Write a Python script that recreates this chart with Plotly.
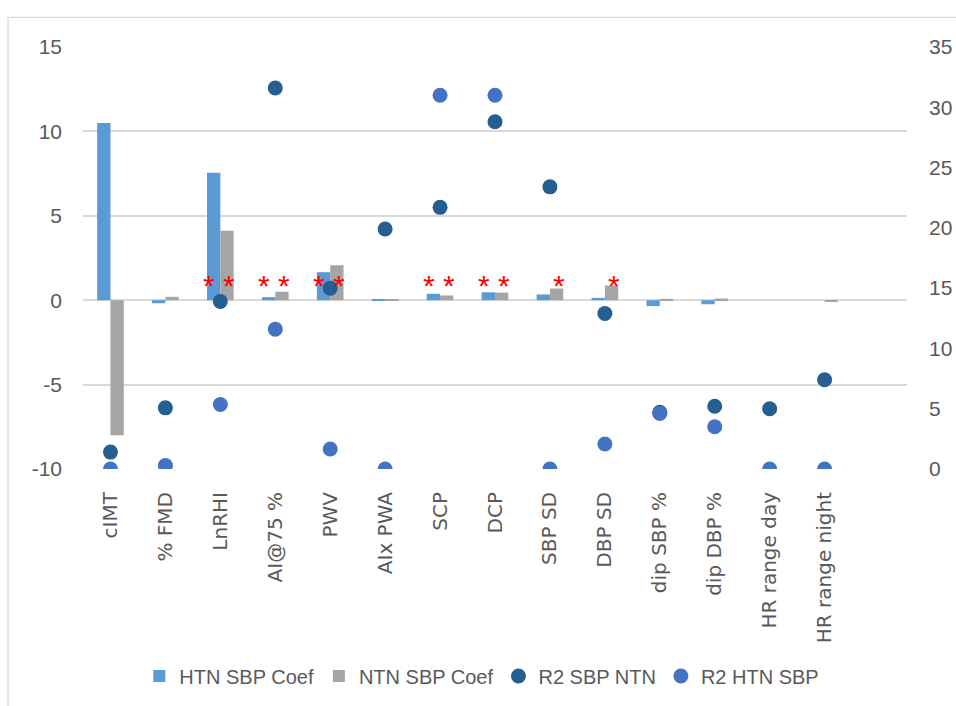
import plotly.graph_objects as go

categories = ["cIMT", "% FMD", "LnRHI", "AI@75 %", "PWV", "AIx PWA", "SCP", "DCP",
              "SBP SD", "DBP SD", "dip SBP %", "dip DBP %", "HR range day", "HR range night"]
htn_sbp_coef = [10.5, -0.18, 7.55, 0.18, 1.66, 0.05, 0.38, 0.47, 0.34, 0.14, -0.35, -0.24, 0.0, 0.0]
ntn_sbp_coef = [-8.0, 0.2, 4.12, 0.5, 2.07, 0.03, 0.28, 0.45, 0.69, 0.87, 0.08, 0.1, 0.0, -0.1]
r2_sbp_ntn = [1.4, 5.07, 13.9, 31.6, 15.0, 19.9, 21.7, 28.8, 23.4, 12.9, 4.7, 5.2, 5.0, 7.4]
r2_htn_sbp = [0.0, 0.28, 5.35, 11.6, 1.66, 0.0, 31.0, 31.0, 0.0, 2.07, 4.6, 3.5, 0.0, 0.0]
# significance markers: 1 = asterisk shown above that bar
sig_htn = [0, 0, 1, 1, 1, 0, 1, 1, 0, 0, 0, 0, 0, 0]
sig_ntn = [0, 0, 1, 1, 1, 0, 1, 1, 1, 1, 0, 0, 0, 0]
star_level = 0.9
left_ticks = [-10, -5, 0, 5, 10, 15]
left_tick_text = ["-10", "-5", "0", "5", "10", "15"]
right_ticks = [0, 5, 10, 15, 20, 25, 30, 35]

xs = list(range(len(categories)))
grey_txt = "#595959"
grid = "#D9D9D9"

fig = go.Figure()
fig.add_trace(go.Bar(x=xs, y=htn_sbp_coef, name="HTN SBP Coef", marker_color="#5B9BD5",
                     marker_line_width=0))
fig.add_trace(go.Bar(x=xs, y=ntn_sbp_coef, name="NTN SBP Coef", marker_color="#A5A5A5",
                     marker_line_width=0))
fig.add_trace(go.Scatter(x=xs, y=r2_sbp_ntn, name="R2 SBP NTN", mode="markers", yaxis="y2",
                         marker=dict(color="#255E91", size=15)))
fig.add_trace(go.Scatter(x=xs, y=r2_htn_sbp, name="R2 HTN SBP", mode="markers", yaxis="y2",
                         marker=dict(color="#4472C4", size=15)))

annotations = []
for i in xs:
    if sig_htn[i]:
        annotations.append(dict(x=i, y=star_level, xref="x", yref="y", text="*", showarrow=False,
                                xshift=-11, font=dict(color="#FF0000", size=30, family="Liberation Sans")))
    if sig_ntn[i]:
        annotations.append(dict(x=i, y=star_level, xref="x", yref="y", text="*", showarrow=False,
                                xshift=9, font=dict(color="#FF0000", size=30, family="Liberation Sans")))

fig.update_layout(
    width=956, height=706,
    margin=dict(l=83, r=49, t=47, b=236),
    paper_bgcolor="white", plot_bgcolor="white",
    barmode="group", bargap=0.515, bargroupgap=0,
    font=dict(family="Liberation Sans", color=grey_txt),
    xaxis=dict(range=[-0.5, 14.5], tickmode="array", tickvals=xs, ticktext=categories,
               tickangle=-90, tickfont=dict(family="DejaVu Sans", size=20, color=grey_txt),
               showgrid=False, zeroline=False, showline=False, ticklabelstandoff=18,
               automargin=False),
    yaxis=dict(range=[-10, 15], tickmode="array", tickvals=left_ticks, ticktext=left_tick_text,
               showgrid=True, gridcolor=grid, gridwidth=1.5,
               zeroline=False, showline=False, tickfont=dict(size=21, color=grey_txt),
               ticklabelstandoff=20, automargin=False),
    yaxis2=dict(range=[0, 35], tickmode="array", tickvals=right_ticks, overlaying="y", side="right",
                showgrid=False, zeroline=False, showline=False,
                tickfont=dict(size=21, color=grey_txt), ticklabelstandoff=21, automargin=False),
    legend=dict(orientation="h", x=0.484, xanchor="center", y=-0.487, yanchor="middle",
                font=dict(size=20, color=grey_txt), traceorder="normal"),
    annotations=annotations,
    shapes=[dict(type="rect", xref="paper", yref="paper", x0=-0.091, x1=1.3, y0=-0.8, y1=1.07,
                 line=dict(color=grid, width=1.3), fillcolor="rgba(0,0,0,0)", layer="below")],
)

fig.write_html("out.html")
